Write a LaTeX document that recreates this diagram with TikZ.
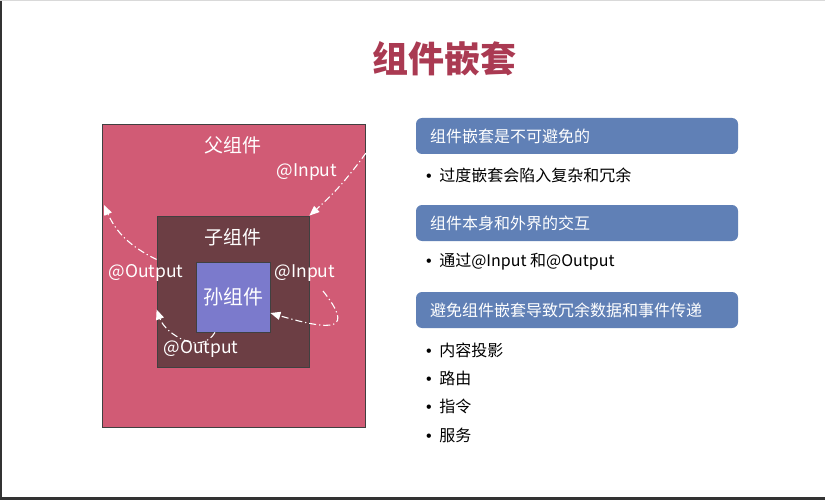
\documentclass[tikz,border=0pt]{standalone}
\usepackage{fontspec}
\setmainfont{Noto Sans CJK SC}
\newfontfamily\latinfont{Liberation Sans}
\usetikzlibrary{arrows.meta}
\definecolor{titlered}{RGB}{170,58,82}
\definecolor{parentpink}{RGB}{209,91,117}
\definecolor{childbrown}{RGB}{108,62,68}
\definecolor{grandblue}{RGB}{123,122,204}
\definecolor{headblue}{RGB}{96,128,182}
\newcommand{\itemdot}{{\latinfont•}\hspace{7.5pt}}
\begin{document}
\begin{tikzpicture}[x=1pt,y=-1pt]
    \tikzset{
      every node/.style={inner sep=0pt},
      compbox/.style={draw=black!75,line width=0.8pt,fill=#1},
      clabel/.style={text=white,font=\fontsize{19}{21}\selectfont},
      plabel/.style={text=white,font=\fontsize{17.5}{20}\selectfont},
      flow/.style={white,line width=1.1pt,dash pattern=on 7pt off 3pt on 1.2pt off 3pt,
        -{Triangle[length=10pt,width=8pt]}},
      headbox/.style={fill=headblue,rounded corners=6pt,minimum width=322pt,minimum height=36pt},
      headtext/.style={anchor=west,text=white,font=\fontsize{16}{18}\selectfont},
      bullet/.style={anchor=west,font=\fontsize{16}{18}\selectfont}
    }
    \useasboundingbox (0,0) rectangle (825,500);
    \fill [white] (0,0) rectangle (825,500);
    % slide frame
    \fill [black!80] (0,0) rectangle (2,500);
    \fill [black!80] (0,497) rectangle (825,500);
    \draw [black!15] (0,0.5) -- (825,0.5);
    % title
    \node (title) at (444,59) {\textcolor{titlered}{\fontsize{36}{40}\selectfont\bfseries 组件嵌套}};
    % nested components
    \node [compbox=parentpink,minimum width=263pt,minimum height=303pt] (parent) at (233.5,275.5) {};
    \node [compbox=childbrown,minimum width=152pt,minimum height=151pt] (child) at (233,291.5) {};
    \node [compbox=grandblue,minimum width=74pt,minimum height=70pt] (grand) at (233,297) {};
    \node [clabel] (parentname) at (233,145) {父组件};
    \node [clabel] (childname) at (233,237) {子组件};
    \node [clabel,font=\fontsize{20}{22}\selectfont] (grandname) at (233,297) {孙组件};
    \node [plabel] (inA) at (307,172) {@Input};
    \node [plabel] (outA) at (146,273) {@Output};
    \node [plabel] (inB) at (305,273) {@Input};
    \node [plabel] (outB) at (201,349) {@Output};
    \coordinate (inAstart) at (366,153);
    \coordinate (outAend) at (104,205);
    \coordinate (inBstart) at (323,291);
    % connectors
    \draw [flow] (inAstart) to[bend left=6] (child.north east);
    \draw [flow] ([yshift=32pt]child.west) to[bend left=20] (outAend);
    \draw [flow] ([xshift=-18pt]grand.south) to[out=-120,in=-70,looseness=1.1] ([yshift=-18pt]child.west);
    \draw [flow] (inBstart) .. controls (354,330) and (335,332) .. ([yshift=-16pt]grand.east);
    % right panel
    \node [headbox] (headA) at (577,136) {};
    \node [headtext] at (430,136) {组件嵌套是不可避免的};
    \node [bullet] (itemA) at (426,175) {\itemdot 过度嵌套会陷入复杂和冗余};
    \node [headbox] (headB) at (577,223) {};
    \node [headtext] at (430,223) {组件本身和外界的交互};
    \node [bullet] (itemB) at (426,262) {\itemdot 通过@Input 和@Output};
    \node [headbox] (headC) at (577,310) {};
    \node [headtext] at (430,310) {避免组件嵌套导致冗余数据和事件传递};
    \node [bullet] (itemC) at (426,350) {\itemdot 内容投影};
    \node [bullet] (itemD) at (426,378) {\itemdot 路由};
    \node [bullet] (itemE) at (426,406) {\itemdot 指令};
    \node [bullet] (itemF) at (426,435) {\itemdot 服务};
\end{tikzpicture}
\end{document}
